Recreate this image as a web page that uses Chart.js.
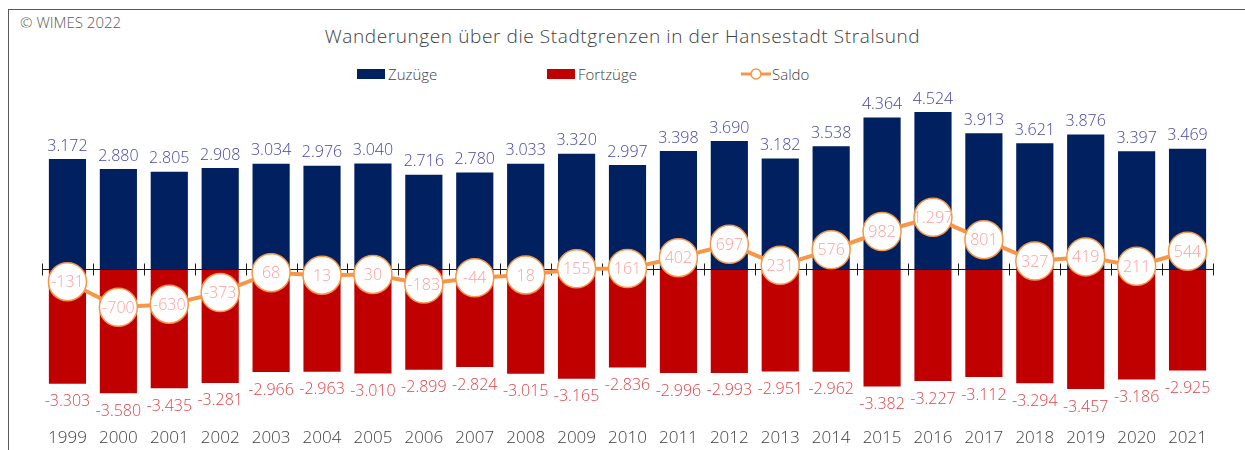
<!DOCTYPE html>
<html lang="de">
<head>
<meta charset="utf-8">
<title>Wanderungen Stralsund</title>
<script src="https://cdn.jsdelivr.net/npm/chart.js@4.4.0/dist/chart.umd.min.js"></script>
<style>
    html, body { margin: 0; padding: 0; background: #fff; }
    #wrap { position: relative; width: 1245px; height: 450px; overflow: hidden; font-family: 'Open Sans', 'Lato', sans-serif; font-weight: 300; }
    #frame { position: absolute; left: 8px; top: 9px; width: 1300px; height: 500px; border-left: 1px solid #595959; border-top: 1px solid #595959; }
    #copy { position: absolute; left: 20px; top: 12px; font-size: 15px; color: #595959; }
    #title { position: absolute; left: 0; width: 1245px; top: 23px; text-align: center; font-size: 19px; color: #404040; letter-spacing: 0.6px; }
    .lg { position: absolute; top: 64px; font-size: 15px; color: #404040; line-height: 20px; }
    .lg .box { position: absolute; top: 5px; width: 28px; height: 10px; }
    canvas { position: absolute; left: 0; top: 0; }
</style>
</head>
<body>
<div id="wrap">
    <div id="frame"></div>
    <div id="copy">© WIMES 2022</div>
    <div id="title">Wanderungen über die Stadtgrenzen in der Hansestadt Stralsund</div>
    <div class="lg" style="left:357px"><span class="box" style="left:0;background:#002060"></span><span style="margin-left:31px">Zuzüge</span></div>
    <div class="lg" style="left:547px"><span class="box" style="left:0;background:#C00000"></span><span style="margin-left:31px">Fortzüge</span></div>
    <div class="lg" style="left:741px">
        <svg width="30" height="20" style="position:absolute;left:0;top:0">
            <line x1="0" y1="10" x2="30" y2="10" stroke="#F79646" stroke-width="3"/>
            <circle cx="15" cy="10" r="5" fill="#fff" stroke="#F79646" stroke-width="1.5"/>
        </svg>
        <span style="margin-left:31px">Saldo</span>
    </div>
    <canvas id="chart" width="1245" height="450"></canvas>
</div>
<script>
// ===== Data =====
const years = ['1999', '2000', '2001', '2002', '2003', '2004', '2005', '2006', '2007', '2008', '2009', '2010',
    '2011', '2012', '2013', '2014', '2015', '2016', '2017', '2018', '2019', '2020', '2021'];
const zuzuege = [3172, 2880, 2805, 2908, 3034, 2976, 3040, 2716, 2780, 3033, 3320, 2997,
    3398, 3690, 3182, 3538, 4364, 4524, 3913, 3621, 3876, 3397, 3469];
const fortzuege = [-3303, -3580, -3435, -3281, -2966, -2963, -3010, -2899, -2824, -3015, -3165, -2836,
    -2996, -2993, -2951, -2962, -3382, -3227, -3112, -3294, -3457, -3186, -2925];
const saldo = [-131, -700, -630, -373, 68, 13, 30, -183, -44, 18, 155, 161,
    402, 697, 231, 576, 982, 1297, 801, 327, 419, 211, 544];

// ===== Helpers =====
function formatDE(v) {
    const s = Math.abs(v).toString().replace(/\B(?=(\d{3})+(?!\d))/g, '.');
    return (v < 0 ? '-' : '') + s;
}

const FONT = "'Open Sans', 'Lato', sans-serif";

// zero line with crossing ticks, drawn after the bars but below the Saldo line
const zeroAxis = {
    id: 'zeroAxis',
    afterDatasetDraw(chart, args) {
        if (args.index !== 1) return;
        const ctx = chart.ctx;
        const x = chart.scales.x;
        const y0 = Math.round(chart.scales.y.getPixelForValue(0)) + 0.5;
        const step = x.getPixelForValue(1) - x.getPixelForValue(0);
        ctx.save();
        ctx.strokeStyle = '#1a1a1a';
        ctx.lineWidth = 1;
        ctx.beginPath();
        ctx.moveTo(x.left, y0);
        ctx.lineTo(x.right, y0);
        for (let i = 0; i <= years.length; i++) {
            const px = Math.round(x.getPixelForValue(0) - step / 2 + i * step) + 0.5;
            ctx.moveTo(px, y0 - 6);
            ctx.lineTo(px, y0 + 6);
        }
        ctx.stroke();
        ctx.restore();
    }
};

// value labels above/below the bars and inside the Saldo circles
const valueLabels = {
    id: 'valueLabels',
    afterDatasetsDraw(chart) {
        const ctx = chart.ctx;
        ctx.save();
        ctx.textAlign = 'center';
        ctx.textBaseline = 'middle';
        ctx.font = '300 16px ' + FONT;

        chart.getDatasetMeta(0).data.forEach((bar, i) => {
            ctx.fillStyle = '#4545A5';
            ctx.fillText(formatDE(zuzuege[i]), bar.x, bar.y - 13);
        });
        chart.getDatasetMeta(1).data.forEach((bar, i) => {
            ctx.fillStyle = '#DF4448';
            ctx.fillText(formatDE(fortzuege[i]), bar.x, bar.y + 18);
        });
        ctx.font = '300 16px ' + FONT;
        chart.getDatasetMeta(2).data.forEach((pt, i) => {
            ctx.fillStyle = '#FF9E9E';
            ctx.fillText(formatDE(saldo[i]), pt.x, pt.y + 1);
        });
        ctx.restore();
    }
};

const chart = new Chart(document.getElementById('chart').getContext('2d'), {
    type: 'bar',
    data: {
        labels: years,
        datasets: [
            {
                label: 'Zuzüge',
                data: zuzuege,
                backgroundColor: '#002060',
                barPercentage: 0.73,
                categoryPercentage: 1,
                order: 2
            },
            {
                label: 'Fortzüge',
                data: fortzuege,
                backgroundColor: '#C00000',
                barPercentage: 0.73,
                categoryPercentage: 1,
                order: 1
            },
            {
                type: 'line',
                label: 'Saldo',
                data: saldo,
                yAxisID: 'y2',
                borderColor: '#F79646',
                borderWidth: 4,
                tension: 0,
                pointRadius: 19,
                pointBorderWidth: 1.5,
                pointBackgroundColor: '#FFFFFF',
                pointBorderColor: '#F79646',
                order: 0
            }
        ]
    },
    options: {
        responsive: false,
        animation: false,
        events: [],
        layout: { padding: { left: 42, right: 32, top: 95.5, bottom: 0 } },
        plugins: {
            legend: { display: false },
            title: { display: false },
            tooltip: { enabled: false }
        },
        scales: {
            x: {
                stacked: true,
                grid: { display: false },
                border: { display: false },
                ticks: { color: '#404040', font: { family: FONT, size: 17, weight: 300 }, padding: 0 },
                afterFit: (s) => { s.height = 30; }
            },
            y: {
                stacked: true,
                display: false,
                min: -4350,
                max: 5000
            },
            y2: {
                display: false,
                min: -3200,
                max: 4000
            }
        }
    },
    plugins: [zeroAxis, valueLabels]
});
</script>
</body>
</html>
